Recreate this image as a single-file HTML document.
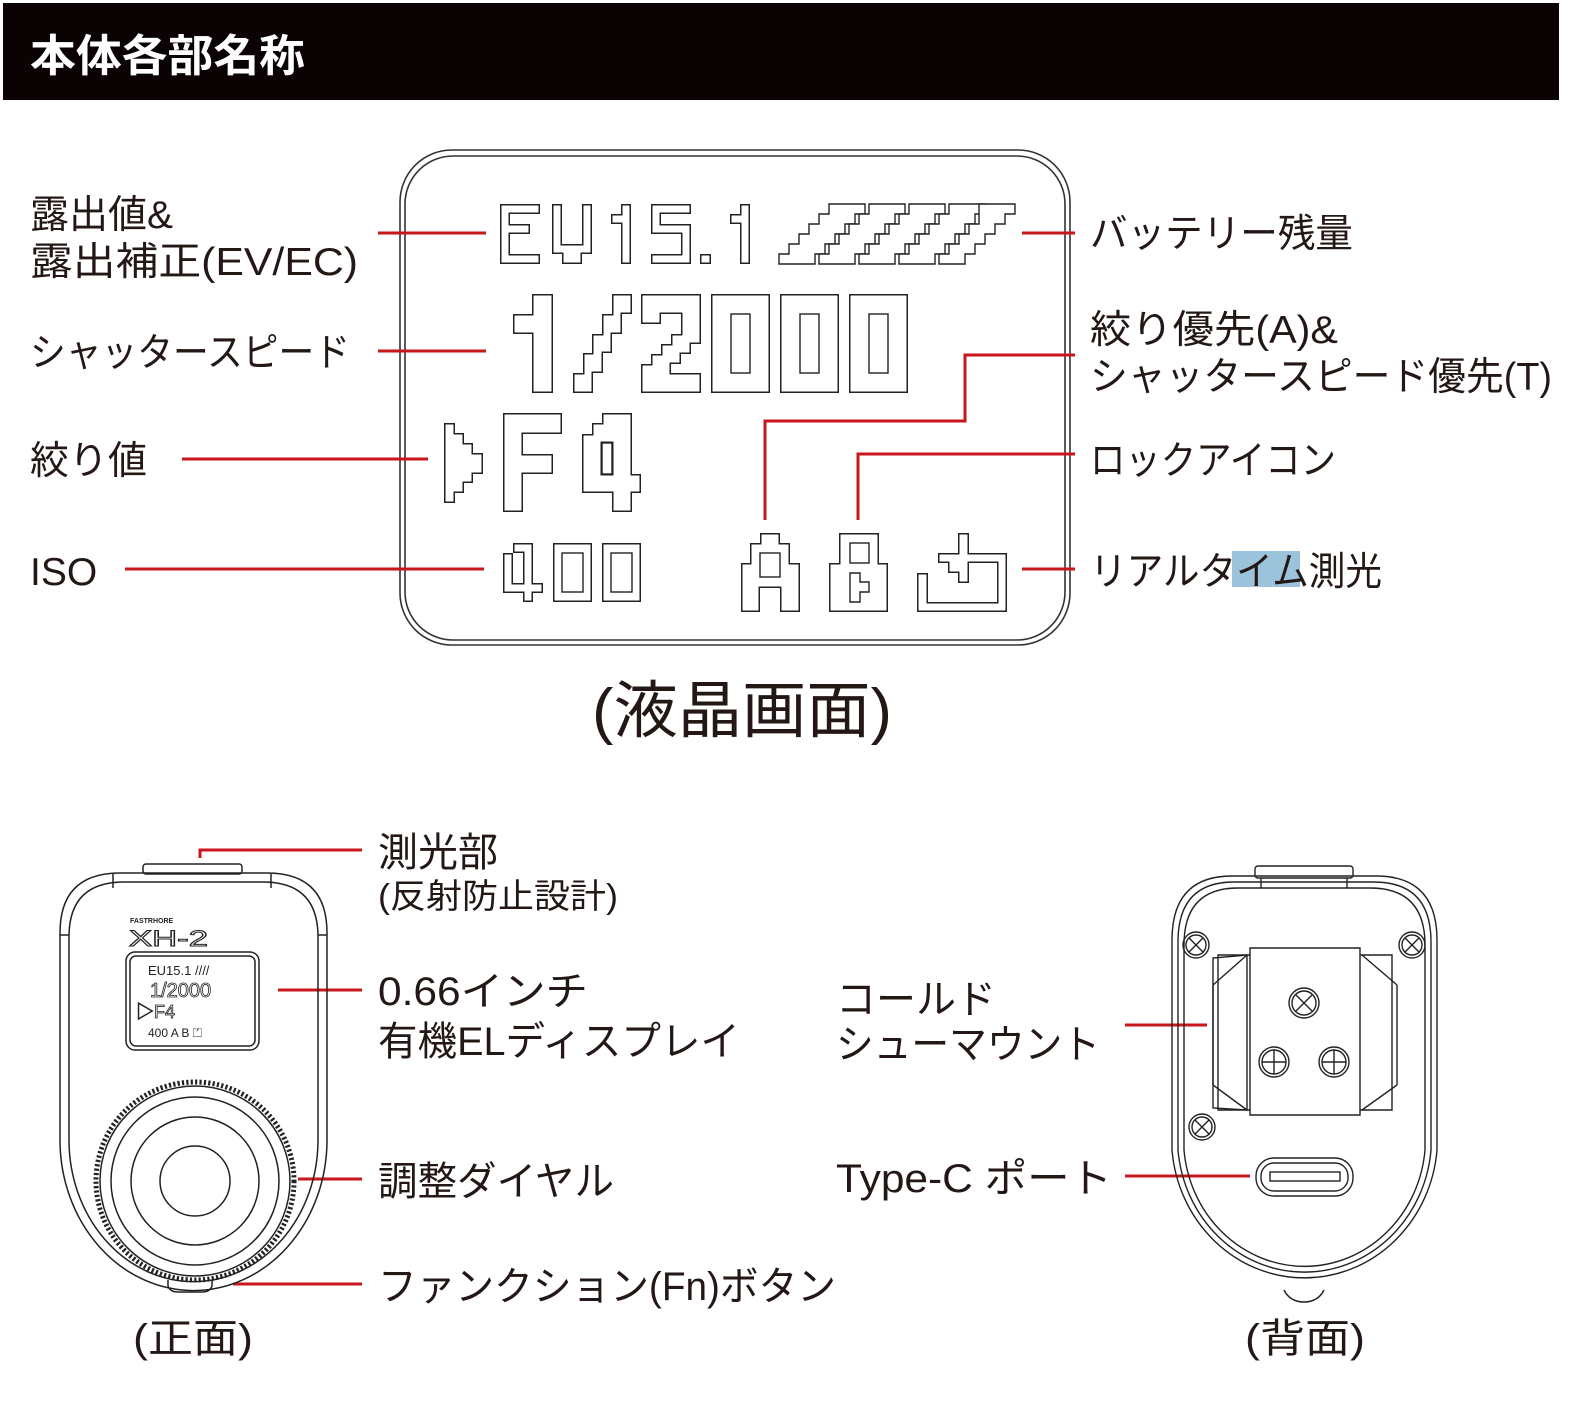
<!DOCTYPE html>
<html><head><meta charset="utf-8"><style>
html,body{margin:0;padding:0;background:#fff;}
svg{display:block;}
text{font-family:"Liberation Sans","Noto Sans CJK JP",sans-serif;fill:#231815;}
</style></head><body>
<svg width="1571" height="1402" viewBox="0 0 1571 1402" xmlns="http://www.w3.org/2000/svg">
<defs>
<filter id="ol" x="-5%" y="-5%" width="110%" height="110%">
<feMorphology in="SourceAlpha" operator="erode" radius="1.4" result="e"/>
<feComposite in="SourceGraphic" in2="e" operator="out"/>
</filter>
</defs>
<rect x="0" y="0" width="1571" height="1402" fill="#fff"/>
<rect x="3" y="3" width="1556" height="97" fill="#0a0203"/>
<text x="30" y="71" font-size="44" font-weight="bold" style="fill:#fff" textLength="275" lengthAdjust="spacingAndGlyphs">本体各部名称</text>

<!-- LCD frame -->
<rect x="400" y="150" width="670" height="495" rx="52" fill="none" stroke="#333" stroke-width="1.6"/>
<rect x="405" y="156" width="660" height="484" rx="48" fill="none" stroke="#333" stroke-width="1.6"/>

<!-- glyphs -->
<g filter="url(#ol)" fill="#222">
<rect x="500" y="204" width="40" height="10"/><rect x="500" y="204" width="10" height="60"/><rect x="500" y="224" width="30" height="10"/><rect x="500" y="254" width="40" height="10"/>
<rect x="552" y="204" width="10" height="50"/><rect x="582" y="204" width="10" height="50"/><rect x="552" y="244" width="40" height="10"/><rect x="562" y="244" width="20" height="20"/>
<rect x="621" y="204" width="10" height="60"/><rect x="611" y="214" width="20" height="10"/>
<rect x="651" y="204" width="40" height="10"/><rect x="651" y="204" width="10" height="30"/><rect x="651" y="224" width="40" height="10"/><rect x="681" y="224" width="10" height="40"/><rect x="651" y="254" width="40" height="10"/>
<rect x="700" y="254" width="11" height="10"/>
<rect x="740" y="204" width="10" height="60"/><rect x="730" y="214" width="20" height="10"/>
<rect x="532" y="294" width="21" height="99"/><rect x="513" y="314" width="40" height="20"/>
<rect x="612" y="294" width="20" height="20"/><rect x="602" y="314" width="20" height="20"/><rect x="592" y="334" width="20" height="19"/><rect x="583" y="353" width="20" height="20"/><rect x="573" y="373" width="20" height="20"/>
<rect x="641" y="294" width="60" height="20"/><rect x="641" y="294" width="20" height="30"/><rect x="681" y="294" width="20" height="50"/><rect x="671" y="334" width="20" height="20"/><rect x="661" y="344" width="20" height="20"/><rect x="651" y="354" width="20" height="20"/><rect x="641" y="364" width="20" height="29"/><rect x="641" y="373" width="60" height="20"/>
<rect x="711" y="294" width="59" height="99"/><rect x="780" y="294" width="59" height="99"/><rect x="849" y="294" width="59" height="99"/>
<path d="M444,423 H455 V433 H464 V443 H473 V453 H483 V474 H473 V483 H464 V493 H455 V503 H444 Z"/>
<rect x="503" y="413" width="20" height="99"/><rect x="503" y="413" width="59" height="21"/><rect x="503" y="454" width="50" height="20"/>
<rect x="582" y="434" width="20" height="59"/><rect x="592" y="423" width="20" height="20"/><rect x="602" y="413" width="30" height="20"/><rect x="612" y="413" width="20" height="99"/><rect x="582" y="474" width="59" height="19"/>
<rect x="503" y="553" width="10" height="40"/><rect x="503" y="583" width="40" height="10"/><rect x="513" y="543" width="10" height="10"/><rect x="523" y="543" width="10" height="59"/>
<rect x="553" y="543" width="39" height="59"/><rect x="602" y="543" width="39" height="59"/>
<rect x="760" y="533" width="20" height="12"/><rect x="750" y="543" width="40" height="22"/><rect x="741" y="563" width="59" height="25"/><rect x="741" y="563" width="19" height="49"/><rect x="780" y="563" width="20" height="49"/>
<rect x="839" y="533" width="40" height="30"/><rect x="829" y="563" width="59" height="49"/>
<rect x="917" y="573" width="11" height="39"/><rect x="917" y="602" width="90" height="10"/><rect x="997" y="553" width="10" height="59"/><rect x="958" y="533" width="11" height="50"/><rect x="938" y="553" width="69" height="10"/><rect x="948" y="563" width="10" height="10"/>
</g>
<g fill="#fff" stroke="#222" stroke-width="1.4">
<rect x="731" y="314" width="19" height="59"/><rect x="800" y="314" width="19" height="59"/><rect x="869" y="314" width="19" height="59"/>
<rect x="602" y="443" width="10" height="31"/>
<rect x="562" y="553" width="21" height="39"/><rect x="611" y="553" width="21" height="39"/>
<rect x="760" y="553" width="20" height="24"/>
<rect x="850" y="543" width="19" height="20"/>
<path d="M850,573 H860 V582 H869 V592 H860 V602 H850 Z"/>
</g>
<g fill="#fff" stroke="#222" stroke-width="1.4">
<path d="M829,204 H865 V214 H855 V224 H845 V234 H835 V244 H825 V254 H815 V264 H779 V254 H789 V244 H799 V234 H809 V224 H819 V214 H829 Z"/>
<path d="M869,204 H905 V214 H895 V224 H885 V234 H875 V244 H865 V254 H855 V264 H819 V254 H829 V244 H839 V234 H849 V224 H859 V214 H869 Z"/>
<path d="M909,204 H945 V214 H935 V224 H925 V234 H915 V244 H905 V254 H895 V264 H859 V254 H869 V244 H879 V234 H889 V224 H899 V214 H909 Z"/>
<path d="M949,204 H985 V214 H975 V224 H965 V234 H955 V244 H945 V254 H935 V264 H899 V254 H909 V244 H919 V234 H929 V224 H939 V214 H949 Z"/>
<path d="M979,204 H1015 V214 H1005 V224 H995 V234 H985 V244 H975 V254 H965 V264 H939 V254 H949 V244 H959 V234 H969 V224 H979 Z"/>
</g>

<g stroke="#c8161d" stroke-width="3" fill="none">
<line x1="378" y1="233" x2="486" y2="233"/>
<line x1="378" y1="351" x2="486" y2="351"/>
<line x1="182" y1="459" x2="428" y2="459"/>
<line x1="125" y1="569" x2="484" y2="569"/>
<line x1="1022" y1="233" x2="1075" y2="233"/>
<polyline points="1075,355 965,355 965,421 765,421 765,520"/>
<polyline points="1075,454 858,454 858,520"/>
<line x1="1022" y1="569" x2="1075" y2="569"/>
<polyline points="200,858 200,850 362,850"/>
<line x1="278" y1="990" x2="362" y2="990"/>
<line x1="298" y1="1179" x2="362" y2="1179"/>
<line x1="233" y1="1284" x2="362" y2="1284"/>
<line x1="1125" y1="1025" x2="1207" y2="1025"/>
<line x1="1125" y1="1176" x2="1250" y2="1176"/>
</g>

<g font-size="39">
<text x="30" y="228">露出値&amp;</text>
<text x="30" y="275" textLength="328" lengthAdjust="spacingAndGlyphs">露出補正(EV/EC)</text>
<text x="30" y="366" textLength="320" lengthAdjust="spacingAndGlyphs">シャッタースピード</text>
<text x="30" y="474">絞り値</text>
<text x="30" y="585">ISO</text>
<text x="1090" y="247" textLength="263" lengthAdjust="spacingAndGlyphs">バッテリー残量</text>
<text x="1090" y="343" textLength="248" lengthAdjust="spacingAndGlyphs">絞り優先(A)&amp;</text>
<text x="1090" y="390" textLength="462" lengthAdjust="spacingAndGlyphs">シャッタースピード優先(T)</text>
<text x="1090" y="474" textLength="246" lengthAdjust="spacingAndGlyphs">ロックアイコン</text>
<rect x="1232" y="551" width="68" height="36" fill="#9cc3dc"/>
<text x="1090" y="585" textLength="292" lengthAdjust="spacingAndGlyphs">リアルタイム測光</text>
</g>
<text x="742" y="732" font-size="62" text-anchor="middle" textLength="300" lengthAdjust="spacingAndGlyphs">(液晶画面)</text>

<g font-size="40">
<text x="378" y="866">測光部</text>
<text x="378" y="908" font-size="34" textLength="240" lengthAdjust="spacingAndGlyphs">(反射防止設計)</text>
<text x="378" y="1005" textLength="210" lengthAdjust="spacingAndGlyphs">0.66インチ</text>
<text x="378" y="1055" textLength="362" lengthAdjust="spacingAndGlyphs">有機ELディスプレイ</text>
<text x="378" y="1195" textLength="236" lengthAdjust="spacingAndGlyphs">調整ダイヤル</text>
<text x="378" y="1300" textLength="458" lengthAdjust="spacingAndGlyphs">ファンクション(Fn)ボタン</text>
<text x="193" y="1352" text-anchor="middle" textLength="120" lengthAdjust="spacingAndGlyphs">(正面)</text>
<text x="836" y="1013">コールド</text>
<text x="836" y="1058" textLength="264" lengthAdjust="spacingAndGlyphs">シューマウント</text>
<text x="836" y="1192" textLength="276" lengthAdjust="spacingAndGlyphs">Type-C ポート</text>
<text x="1305" y="1352" text-anchor="middle" textLength="120" lengthAdjust="spacingAndGlyphs">(背面)</text>
</g>

<g fill="none" stroke="#222" stroke-width="1.5">
<rect x="143" y="864" width="99" height="10" rx="3"/>
<path d="M120,873 H267 Q327,873 327,933 V1140 A133,150 0 0 1 60,1140 V933 Q60,873 120,873 Z"/>
<path d="M124,882 H263 Q318,882 318,937 V1140 A124,141 0 0 1 69,1140 V937 Q69,882 124,882 Z"/>
<line x1="113" y1="874" x2="113" y2="888"/><line x1="271" y1="874" x2="271" y2="888"/>
<line x1="60" y1="935" x2="69" y2="935"/><line x1="318" y1="935" x2="327" y2="935"/>
<rect x="126" y="952" width="133" height="98" rx="9"/>
<rect x="130" y="956" width="125" height="90" rx="6"/>
<circle cx="195" cy="1181" r="99" stroke-dasharray="2.2 2.2" stroke-width="5"/>
<circle cx="195" cy="1181" r="95"/>
<circle cx="195" cy="1181" r="84"/>
<circle cx="195" cy="1181" r="64"/>
<circle cx="195" cy="1181" r="35"/>
<path d="M168,1280 V1286 Q170,1292 178,1292 H202 Q210,1292 212,1286 V1280"/>
</g>
<text x="130" y="923" font-size="7" font-weight="bold" style="fill:#222">FASTRHORE</text>
<text x="129" y="946" font-size="22" style="fill:#fff;stroke:#222;stroke-width:1" textLength="79" lengthAdjust="spacingAndGlyphs">XH-2</text>
<text x="148" y="975" font-size="13" font-family="Liberation Mono" style="fill:#222">EU15.1 ////</text>
<text x="150" y="997" font-size="20" font-family="Liberation Mono" style="fill:#fff;stroke:#222;stroke-width:0.8">1/2000</text>
<text x="136" y="1018" font-size="18" font-family="Liberation Mono" style="fill:#fff;stroke:#222;stroke-width:0.8">▷F4</text>
<text x="148" y="1037" font-size="12" font-family="Liberation Mono" style="fill:#222">400   A B ⏍</text>

<g fill="none" stroke="#222" stroke-width="1.4">
<rect x="1255" y="866" width="98" height="12" rx="3"/>
<path d="M1232,876 H1376 Q1437,876 1437,940 V1150 A133,140 0 0 1 1172,1150 V940 Q1172,876 1232,876 Z"/>
<path d="M1234,882 H1374 Q1431,882 1431,942 V1150 A127,134 0 0 1 1178,1150 V942 Q1178,882 1234,882 Z"/>
<path d="M1238,888 H1370 Q1425,888 1425,945 V1150 A121,128 0 0 1 1184,1150 V945 Q1184,888 1238,888 Z"/>
<line x1="1261" y1="878" x2="1261" y2="888"/><line x1="1347" y1="878" x2="1347" y2="888"/>
<path d="M1218,955 H1250 V948 H1360 V955 H1392 V1110 H1360 V1115 H1250 V1110 H1218 Z"/>
<path d="M1213,958 L1213,1108 L1247,1110 L1247,955 Z"/>
<path d="M1213,985 L1247,955 M1213,1085 L1247,1110"/>
<path d="M1397,985 L1362,955 M1397,1085 L1362,1110"/>
<line x1="1250" y1="955" x2="1250" y2="1110"/><line x1="1360" y1="955" x2="1360" y2="1110"/>
<line x1="1213" y1="985" x2="1213" y2="1085"/><line x1="1397" y1="985" x2="1397" y2="1085"/>
<circle cx="1304" cy="1003" r="15"/><circle cx="1304" cy="1003" r="12"/>
<circle cx="1274" cy="1062" r="15"/><circle cx="1274" cy="1062" r="12"/>
<circle cx="1334" cy="1062" r="15"/><circle cx="1334" cy="1062" r="12"/>
<path d="M1296,995 L1312,1011 M1312,995 L1296,1011"/>
<path d="M1274,1050 V1074 M1262,1062 H1286"/>
<path d="M1334,1050 V1074 M1322,1062 H1346"/>
<circle cx="1196" cy="945" r="13"/><circle cx="1196" cy="945" r="10"/><path d="M1189,938 L1203,952 M1203,938 L1189,952"/>
<circle cx="1412" cy="945" r="13"/><circle cx="1412" cy="945" r="10"/><path d="M1405,938 L1419,952 M1419,938 L1405,952"/>
<circle cx="1202" cy="1127" r="13"/><circle cx="1202" cy="1127" r="10"/><path d="M1195,1120 L1209,1134 M1209,1120 L1195,1134"/>
<rect x="1256" y="1158" width="97" height="38" rx="18"/>
<rect x="1261" y="1163" width="87" height="28" rx="13"/>
<rect x="1270" y="1172" width="70" height="9"/>
<path d="M1284,1290 Q1290,1302 1304,1302 Q1318,1302 1324,1290"/>
</g>
</svg>
</body></html>
